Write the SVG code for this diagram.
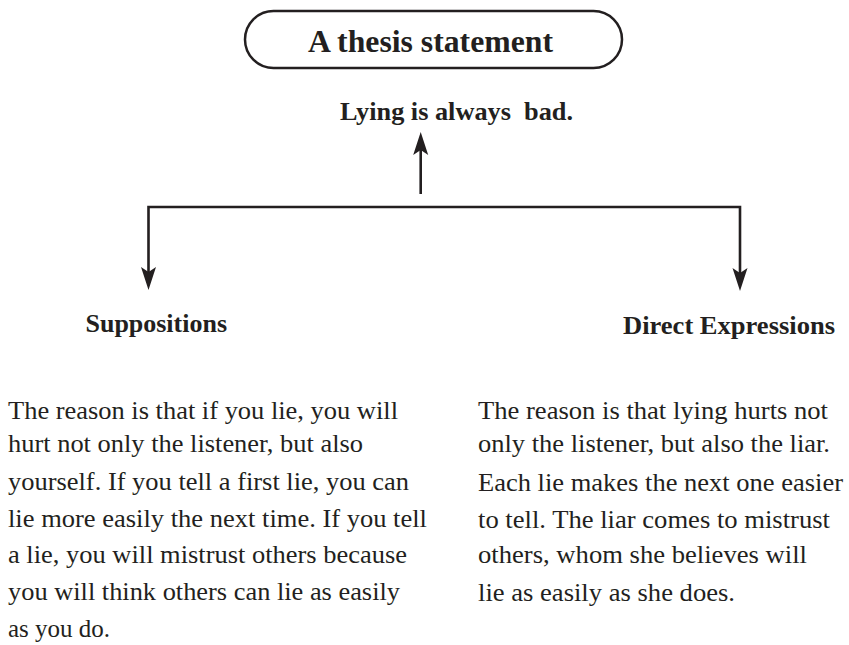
<svg xmlns="http://www.w3.org/2000/svg" width="849" height="645" viewBox="0 0 849 645">
  <style>
    .bold { font-family: "Liberation Serif", "Times New Roman", Times, serif; font-weight: bold; fill: #231f20; }
    .body { font-family: "Liberation Serif", "Times New Roman", Times, serif; font-size: 26px; fill: #231f20; }
    .conn { fill: none; stroke: #231f20; stroke-width: 2.6; stroke-linejoin: miter; }
    .pill { fill: #ffffff; stroke: #231f20; stroke-width: 2.5; }
  </style>
  <defs>
    <marker id="arrow" markerUnits="userSpaceOnUse" markerWidth="24" markerHeight="16" refX="13" refY="7.5" orient="auto-start-reverse" viewBox="0 0 24 15">
      <path d="M0,0 L23,7.5 L0,15 L5,7.5 Z" fill="#231f20"/>
    </marker>
  </defs>
  <rect width="849" height="645" fill="#ffffff"/>

  <g id="connectors">
    <path class="conn" d="M420.7,194 V142" marker-end="url(#arrow)"/>
    <path class="conn" d="M148.5,280 V207 H740 V281" marker-start="url(#arrow)" marker-end="url(#arrow)"/>
  </g>

  <g id="thesis">
    <rect class="pill" x="245" y="11" width="377" height="57" rx="28.5" ry="28.5"/>
    <text class="bold" x="308" y="52" font-size="32" textLength="245" lengthAdjust="spacingAndGlyphs">A thesis statement</text>
  </g>

  <g id="claim">
    <text class="bold" x="340" y="120" font-size="26" textLength="233" lengthAdjust="spacingAndGlyphs">Lying is always&#160; bad.</text>
  </g>

  <g id="suppositions">
    <text class="bold" x="85.5" y="332" font-size="26" textLength="141.5" lengthAdjust="spacingAndGlyphs">Suppositions</text>
  </g>

  <g id="direct-expressions">
    <text class="bold" x="623" y="334" font-size="26" textLength="212" lengthAdjust="spacingAndGlyphs">Direct Expressions</text>
  </g>

  <g id="suppositions-text">
    <text class="body" x="8" y="419" textLength="390" lengthAdjust="spacingAndGlyphs">The reason is that if you lie, you will</text>
    <text class="body" x="8" y="452" textLength="355" lengthAdjust="spacingAndGlyphs">hurt not only the listener, but also</text>
    <text class="body" x="8" y="490" textLength="401" lengthAdjust="spacingAndGlyphs">yourself. If you tell a first lie, you can</text>
    <text class="body" x="8" y="527" textLength="419" lengthAdjust="spacingAndGlyphs">lie more easily the next time. If you tell</text>
    <text class="body" x="8" y="563" textLength="399" lengthAdjust="spacingAndGlyphs">a lie, you will mistrust others because</text>
    <text class="body" x="8" y="600" textLength="392" lengthAdjust="spacingAndGlyphs">you will think others can lie as easily</text>
    <text class="body" x="8" y="637" textLength="102" lengthAdjust="spacingAndGlyphs">as you do.</text>
  </g>

  <g id="direct-expressions-text">
    <text class="body" x="478" y="419" textLength="350" lengthAdjust="spacingAndGlyphs">The reason is that lying hurts not</text>
    <text class="body" x="478" y="452" textLength="352" lengthAdjust="spacingAndGlyphs">only the listener, but also the liar.</text>
    <text class="body" x="478" y="491" textLength="365" lengthAdjust="spacingAndGlyphs">Each lie makes the next one easier</text>
    <text class="body" x="478" y="528" textLength="352" lengthAdjust="spacingAndGlyphs">to tell. The liar comes to mistrust</text>
    <text class="body" x="478" y="563" textLength="329" lengthAdjust="spacingAndGlyphs">others, whom she believes will</text>
    <text class="body" x="478" y="601" textLength="257" lengthAdjust="spacingAndGlyphs">lie as easily as she does.</text>
  </g>
</svg>
